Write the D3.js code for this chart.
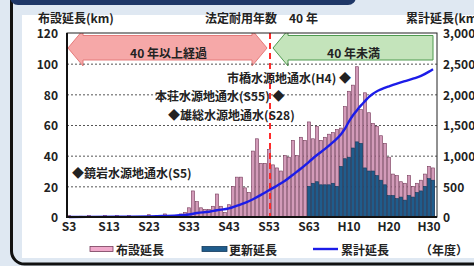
<!DOCTYPE html>
<html>
<head>
<meta charset="utf-8">
<script src="https://cdn.jsdelivr.net/npm/d3@7/dist/d3.min.js"></script>
<style>
  body { margin: 0; background: #dfe8f2; }
  svg { display: block; font-family: "Noto Sans CJK JP", "Noto Sans", sans-serif; }
</style>
</head>
<body>
<svg id="chart" width="474" height="266"></svg>
<script>
// 布設延長 / 更新延長 / 累計延長 (岐阜市 水道管路)
const firstYear = 1928;   // S3
const layLength = [
  1, 0, 0, 0.5, 0, 1, 0, 0, 0, 1,          // S3 - S12
  0, 0, 1, 0, 0, 1, 0, 0, 0, 0,            // S13 - S22
  1.5, 0, 1, 0, 2, 1, 0.5, 1, 2, 3,        // S23 - S32
  6, 17, 10, 6, 5, 5, 7, 15, 7, 3,         // S33 - S42
  8, 20, 26, 26, 19, 16, 43, 51, 35, 35,   // S43 - S52
  44, 34, 32, 30, 40, 39, 50, 40, 52, 50,  // S53 - S62
  62, 51, 59, 50, 52, 54, 55, 57, 58, 72,  // S63 - H9
  82, 86, 98, 70, 81, 68, 61, 59, 53, 48,  // H10 - H19
  39, 28, 27, 23, 22, 27, 20, 22, 24, 28,  // H20 - H29
  33, 32                                   // H30 - R1
];
// 更新延長 は S63 から
const renewStartYear = 1988;
const renewLength = [
  20, 22, 23, 21, 21, 21, 22, 20, 33, 38,
  39, 45, 49, 48, 32, 30, 30, 27, 24, 21,
  14, 14, 12, 13, 11, 14, 13, 16, 17, 20,
  25, 24
];
// 累計延長 (km, 右軸)
const cumYears  = [1928, 1940, 1950, 1955, 1958, 1960, 1963, 1965, 1968, 1970, 1972, 1974, 1976, 1978,
                   1980, 1982, 1984, 1986, 1988, 1990, 1992, 1994, 1996, 1997, 1998, 1999, 2000,
                   2001, 2002, 2003, 2004, 2005, 2006, 2008, 2010, 2012, 2014, 2016, 2018, 2019];
const cumValues = [0, 5, 15, 25, 40, 65, 85, 110, 140, 185, 230, 290, 360, 436,
                   510, 590, 690, 790, 900, 1010, 1110, 1220, 1350, 1440, 1560, 1660, 1740,
                   1820, 1890, 1960, 2010, 2050, 2080, 2130, 2175, 2215, 2255, 2300, 2370, 2410];

const xTickYears  = [1928, 1938, 1948, 1958, 1968, 1978, 1988, 1998, 2008, 2018];
const xTickLabels = ["S3", "S13", "S23", "S33", "S43", "S53", "S63", "H10", "H20", "H30"];
const yTicks  = [0, 20, 40, 60, 80, 100, 120];
const yRTicks = [0, 500, 1000, 1500, 2000, 2500, 3000];
const usefulLifeYear = 1978;  // 法定耐用年数 40 年の境目

const notes = [
  { text: "市橋水源地通水(H4) ◆", x: 227, y: 77 },
  { text: "本荘水源地通水(S55) ◆", x: 155, y: 95 },
  { text: "◆雄総水源地通水(S28)", x: 168, y: 114 },
  { text: "◆鏡岩水源地通水(S5)", x: 72, y: 172 }
];

const PINK = "#d39bb9", PINK_EDGE = "#763b5a";
const BLUE = "#1f5c8c", BLUE_EDGE = "#123a5c";
const LINE = "#1c1ce8";
const TXT = "#222";

const years = layLength.map((v, i) => firstYear + i);
const layData = layLength.map((v, i) => ({ year: firstYear + i, v }));
const renewData = renewLength.map((v, i) => ({ year: renewStartYear + i, v }));
const cumData = cumYears.map((yr, i) => ({ year: yr, v: cumValues[i] }));

const svg = d3.select("#chart");
const L = 67, R = 437, T = 33, B = 217;

const x = d3.scaleBand().domain(years).range([L, 435]).paddingInner(0.22).paddingOuter(0.1);
const y = d3.scaleLinear().domain([0, 120]).range([B, T]);
const yR = d3.scaleLinear().domain([0, 3000]).range([B, T]);
const cx = yr => x(yr) + x.bandwidth() / 2;

// 枠
svg.append("rect").attr("width", 474).attr("height", 266).attr("fill", "#dfe8f2");
svg.append("rect").attr("x", 11.5).attr("y", -20).attr("width", 500).attr("height", 284)
  .attr("rx", 13).attr("fill", "none").attr("stroke", "#111").attr("stroke-width", 3);
svg.append("rect").attr("x", 10).attr("y", -20).attr("width", 346).attr("height", 25)
  .attr("rx", 8).attr("fill", "#1f3767");
svg.append("rect").attr("x", 22).attr("y", 15).attr("width", 452).attr("height", 243).attr("fill", "#fff");

// 上部テキスト
const header = svg.append("g").attr("fill", TXT).attr("font-size", 12).attr("font-weight", "bold");
header.append("text").attr("x", 38).attr("y", 23).text("布設延長(km)");
header.append("text").attr("x", 205).attr("y", 23).attr("xml:space", "preserve").text("法定耐用年数　40 年");
header.append("text").attr("x", 406).attr("y", 23).text("累計延長(km)");

// 矢印
svg.append("clipPath").attr("id", "plotClip")
  .append("rect").attr("x", L).attr("y", T).attr("width", R - L).attr("height", B - T);
const arrows = svg.append("g").attr("clip-path", "url(#plotClip)");
const bTop = 35.5, bBot = 60, hTop = 30, hBot = 66, mid = (hTop + hBot) / 2;
const xs = cx(usefulLifeYear) + 1;
arrows.append("path")
  .attr("d", `M${L + 1},${mid} L${L + 16},${hTop} L${L + 16},${bTop} L${xs - 18},${bTop} L${xs - 18},${hTop} L${xs - 3},${mid}
              L${xs - 18},${hBot} L${xs - 18},${bBot} L${L + 16},${bBot} L${L + 16},${hBot} Z`)
  .attr("fill", "#f6a8a8").attr("stroke", "#e57a7a").attr("stroke-width", 1);
arrows.append("path")
  .attr("d", `M${xs + 3},${mid} L${xs + 18},${hTop} L${xs + 18},${bTop} L${R - 4},${bTop} L${R - 4},${bBot}
              L${xs + 18},${bBot} L${xs + 18},${hBot} Z`)
  .attr("fill", "#c4e4bb").attr("stroke", "#4f9a4f").attr("stroke-width", 1);
arrows.append("text").attr("x", (L + xs) / 2).attr("y", 52).attr("text-anchor", "middle")
  .attr("dominant-baseline", "central").attr("font-size", 12).attr("font-weight", "bold").attr("fill", TXT)
  .text("40 年以上経過");
arrows.append("text").attr("x", (xs + R) / 2).attr("y", 52).attr("text-anchor", "middle")
  .attr("dominant-baseline", "central").attr("font-size", 12).attr("font-weight", "bold").attr("fill", TXT)
  .text("40 年未満");

// グリッド
svg.append("g").selectAll("line").data(yTicks.filter(d => d > 0 && d < 120)).join("line")
  .attr("x1", L).attr("x2", R).attr("y1", d => y(d) + 0.5).attr("y2", d => y(d) + 0.5)
  .attr("stroke", "#555").attr("stroke-width", 1).attr("stroke-dasharray", "2,2");

// 棒
svg.append("g").selectAll("rect").data(layData.filter(d => d.v > 0)).join("rect")
  .attr("x", d => x(d.year)).attr("width", x.bandwidth())
  .attr("y", d => y(d.v)).attr("height", d => B - y(d.v))
  .attr("fill", PINK).attr("stroke", PINK_EDGE).attr("stroke-width", 0.6);
svg.append("g").selectAll("rect").data(renewData).join("rect")
  .attr("x", d => x(d.year)).attr("width", x.bandwidth())
  .attr("y", d => y(d.v)).attr("height", d => B - y(d.v))
  .attr("fill", BLUE).attr("stroke", BLUE_EDGE).attr("stroke-width", 0.6);

// 法定耐用年数の境界
svg.append("line").attr("x1", xs).attr("x2", xs).attr("y1", T).attr("y2", B)
  .attr("stroke", "#ff2a2a").attr("stroke-width", 2).attr("stroke-dasharray", "6,4");

// 累計延長
svg.append("path").datum(cumData)
  .attr("d", d3.line().x(d => cx(d.year)).y(d => yR(d.v)).curve(d3.curveMonotoneX))
  .attr("fill", "none").attr("stroke", LINE).attr("stroke-width", 2.4);

// 外枠
svg.append("rect").attr("x", L).attr("y", T).attr("width", R - L).attr("height", B - T)
  .attr("fill", "none").attr("stroke", "#222").attr("stroke-width", 1);
svg.append("line").attr("x1", L).attr("x2", L).attr("y1", T).attr("y2", B + 1).attr("stroke", "#111").attr("stroke-width", 2);
svg.append("line").attr("x1", L).attr("x2", R).attr("y1", B).attr("y2", B).attr("stroke", "#111").attr("stroke-width", 2);

// 注記
svg.append("g").selectAll("text").data(notes).join("text")
  .attr("x", d => d.x).attr("y", d => d.y).attr("dominant-baseline", "central")
  .attr("font-size", 12).attr("font-weight", "bold").attr("fill", TXT)
  .text(d => d.text);

// 軸
const styleAxis = g => {
  g.select(".domain").remove();
  g.selectAll("text").attr("font-size", 12).attr("font-weight", "bold").attr("fill", TXT)
    .attr("font-family", "\"Noto Sans CJK JP\", sans-serif");
};
svg.append("g").attr("transform", `translate(${L},1)`)
  .call(d3.axisLeft(y).tickValues(yTicks).tickSize(0).tickPadding(9)).call(styleAxis);
svg.append("g").attr("transform", `translate(${R},1)`)
  .call(d3.axisRight(yR).tickValues(yRTicks).tickSize(0).tickPadding(6).tickFormat(d3.format(","))).call(styleAxis);
svg.append("g").attr("transform", `translate(0,${B})`)
  .call(d3.axisBottom(x).tickValues(xTickYears).tickSize(0).tickPadding(5)
    .tickFormat(d => xTickLabels[xTickYears.indexOf(d)])).call(styleAxis);

// 凡例
const leg = svg.append("g").attr("font-size", 12).attr("font-weight", "bold").attr("fill", TXT);
leg.append("rect").attr("x", 90).attr("y", 246.5).attr("width", 23).attr("height", 5)
  .attr("fill", "#f0a9cb").attr("stroke", PINK_EDGE).attr("stroke-width", 0.8);
leg.append("text").attr("x", 116).attr("y", 249).attr("dominant-baseline", "central").text("布設延長");
leg.append("rect").attr("x", 202).attr("y", 246.5).attr("width", 25).attr("height", 5)
  .attr("fill", BLUE).attr("stroke", BLUE_EDGE).attr("stroke-width", 0.8);
leg.append("text").attr("x", 229).attr("y", 249).attr("dominant-baseline", "central").text("更新延長");
leg.append("line").attr("x1", 313).attr("x2", 338).attr("y1", 249).attr("y2", 249)
  .attr("stroke", LINE).attr("stroke-width", 2.4);
leg.append("text").attr("x", 341).attr("y", 249).attr("dominant-baseline", "central").text("累計延長");
leg.append("text").attr("x", 420).attr("y", 249).attr("dominant-baseline", "central").text("（年度）");
</script>
</body>
</html>
